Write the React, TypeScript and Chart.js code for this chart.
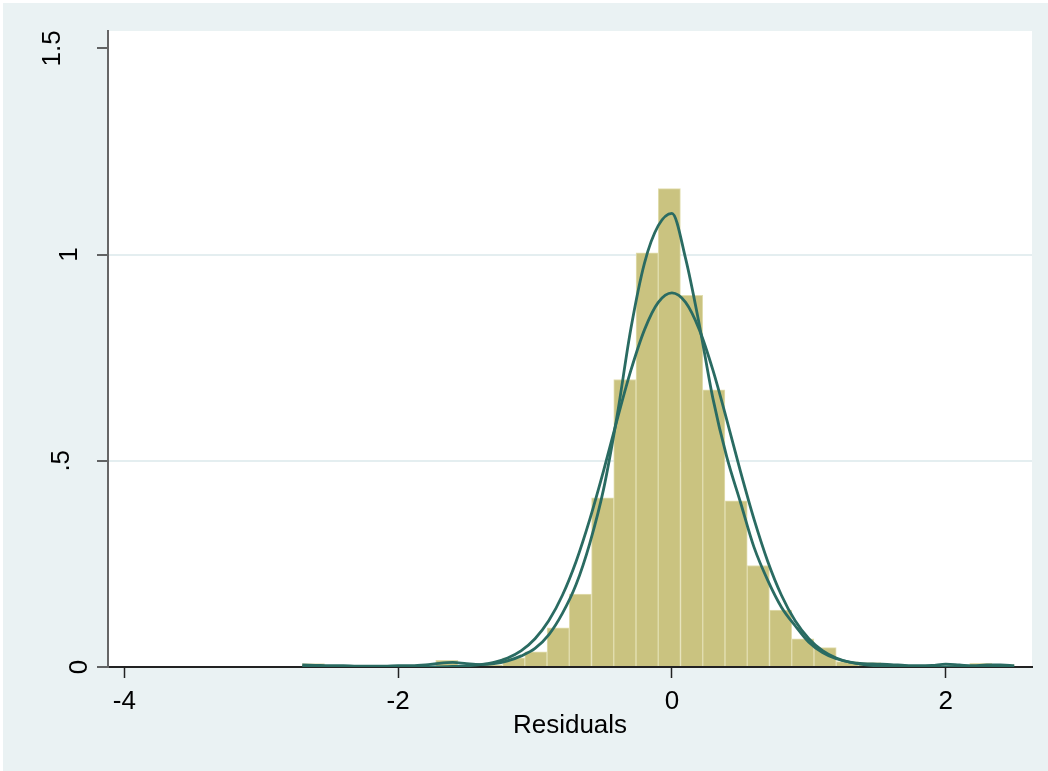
import React, { useEffect, useRef } from "react";
import { Chart, registerables } from "chart.js";

Chart.register(...registerables);

// Histogram bins (bin centers, density heights)
const binCenters = [
  -2.619, -2.456, -2.294, -2.131, -1.969, -1.806, -1.644, -1.481, -1.319, -1.156,
  -0.994, -0.831, -0.669, -0.506, -0.344, -0.181, -0.019, 0.144, 0.306, 0.469,
  0.631, 0.794, 0.956, 1.119, 1.281, 1.444, 1.606, 1.769, 1.931, 2.094, 2.256, 2.419,
];
const binDensity = [
  0.008, 0.002, 0, 0, 0.004, 0, 0.016, 0.003, 0.005, 0.022,
  0.037, 0.095, 0.177, 0.41, 0.697, 1.004, 1.16, 0.901, 0.672, 0.403,
  0.246, 0.138, 0.068, 0.047, 0.013, 0.011, 0.006, 0.004, 0, 0.003, 0.009, 0.006,
];

// Density curves sampled along the residual range
const curveX = [
  -2.7, -2.6, -2.5, -2.4, -2.3, -2.2, -2.1, -2.0, -1.9, -1.8,
  -1.7, -1.6, -1.5, -1.4, -1.3, -1.2, -1.1, -1.0, -0.9, -0.8,
  -0.7, -0.6, -0.5, -0.4, -0.3, -0.2, -0.1, 0.0, 0.1, 0.2,
  0.3, 0.4, 0.5, 0.6, 0.7, 0.8, 0.9, 1.0, 1.1, 1.2,
  1.3, 1.4, 1.5, 1.6, 1.7, 1.8, 1.9, 2.0, 2.1, 2.2,
  2.3, 2.4, 2.5,
];
const kernelDensity = [
  0.005, 0.004, 0.003, 0.003, 0.002, 0.002, 0.002, 0.003, 0.003, 0.005,
  0.009, 0.011, 0.008, 0.006, 0.008, 0.015, 0.027, 0.045, 0.078, 0.13,
  0.2, 0.3, 0.43, 0.61, 0.82, 0.98, 1.07, 1.1, 0.99, 0.83,
  0.65, 0.51, 0.4, 0.29, 0.21, 0.145, 0.1, 0.06, 0.035, 0.02,
  0.012, 0.008, 0.007, 0.006, 0.004, 0.003, 0.004, 0.007, 0.005, 0.003,
  0.005, 0.005, 0.003,
];
const normalDensity = [
  0, 0, 0, 0, 0, 0, 0, 0, 0.0001, 0.0002,
  0.0005, 0.0012, 0.0027, 0.0057, 0.0115, 0.022, 0.0398, 0.0686, 0.112, 0.174,
  0.256, 0.358, 0.475, 0.6, 0.719, 0.818, 0.884, 0.907, 0.884, 0.818,
  0.719, 0.6, 0.475, 0.358, 0.256, 0.174, 0.112, 0.0686, 0.0398, 0.022,
  0.0115, 0.0057, 0.0027, 0.0012, 0.0005, 0.0002, 0.0001, 0, 0, 0,
  0, 0, 0,
];

const xTickValues = [-4, -2, 0, 2];
const xTickLabels = ["-4", "-2", "0", "2"];
const yTickValues = [0, 0.5, 1, 1.5];
const yTickLabels = ["0", ".5", "1", "1.5"];
const yGridValues = [0.5, 1];
const xTitle = "Residuals";

const FONT = '"Liberation Sans", Arial, Helvetica, sans-serif';
const BAR_FILL = "#cac380";
const BAR_EDGE = "#e2deb0";
const LINE_COLOR = "#2a6b62";
const GRID_COLOR = "#e4eef0";

// right edge (baseline) x of each rotated y label
const yLabelBaseX = [87, 69, 77, 60];

const plotBgPlugin = {
  id: "plotBg",
  beforeDraw(chart: any) {
    const { ctx, chartArea: a } = chart;
    ctx.save();
    ctx.fillStyle = "#ffffff";
    ctx.fillRect(a.left, a.top, a.right - a.left, a.bottom - a.top);
    ctx.restore();
  },
};

const yLabelPlugin = {
  id: "yRotLabels",
  afterDraw(chart: any) {
    const ys = chart.scales.y;
    const ctx = chart.ctx;
    ctx.save();
    ctx.font = `26px ${FONT}`;
    ctx.fillStyle = "#000";
    ctx.textAlign = "center";
    ctx.textBaseline = "alphabetic";
    yTickValues.forEach((v, i) => {
      const py = ys.getPixelForValue(v);
      ctx.save();
      ctx.translate(yLabelBaseX[i], py);
      ctx.rotate(-Math.PI / 2);
      ctx.fillText(yTickLabels[i], 0, 0);
      ctx.restore();
    });
    ctx.restore();
  },
};

export default function App() {
  const canvasRef = useRef<HTMLCanvasElement | null>(null);

  useEffect(() => {
    if (!canvasRef.current) return;
    Chart.defaults.font.family = FONT;
    const chart = new Chart(canvasRef.current, {
      type: "bar",
      data: {
        datasets: [
          {
            type: "line",
            label: "Kernel density",
            data: curveX.map((x, i) => ({ x, y: kernelDensity[i] })),
            borderColor: LINE_COLOR,
            borderWidth: 2.8,
            pointRadius: 0,
            cubicInterpolationMode: "monotone",
            fill: false,
            order: 0,
          } as any,
          {
            type: "line",
            label: "Normal density",
            data: curveX.map((x, i) => ({ x, y: normalDensity[i] })),
            borderColor: LINE_COLOR,
            borderWidth: 2.8,
            pointRadius: 0,
            cubicInterpolationMode: "monotone",
            fill: false,
            order: 1,
          } as any,
          {
            type: "bar",
            label: "Density",
            data: binCenters.map((x, i) => ({ x, y: binDensity[i] })),
            backgroundColor: BAR_FILL,
            borderColor: BAR_EDGE,
            borderWidth: 1,
            borderSkipped: "bottom",
            barPercentage: 1,
            categoryPercentage: 1,
            order: 2,
          } as any,
        ],
      },
      options: {
        responsive: false,
        devicePixelRatio: 1,
        animation: false,
        layout: { padding: { left: 3, top: 31, right: 16, bottom: 0 } },
        plugins: {
          legend: { display: false },
          tooltip: { enabled: false },
        },
        scales: {
          x: {
            type: "linear",
            min: -4.119,
            max: 2.63,
            offset: false,
            afterBuildTicks: (s: any) => {
              s.ticks = xTickValues.map((v) => ({ value: v }));
            },
            afterFit: (s: any) => {
              s.height = 104;
            },
            grid: {
              offset: false,
              drawOnChartArea: false,
              drawTicks: true,
              tickLength: 11,
              tickWidth: 1.5,
              tickColor: "#222",
            },
            border: { display: true, color: "#222", width: 2 },
            ticks: {
              autoSkip: false,
              maxRotation: 0,
              minRotation: 0,
              padding: 8,
              color: "#000",
              font: { size: 26, family: FONT },
              callback: (v: any) => {
                const i = xTickValues.indexOf(Number(v));
                return i >= 0 ? xTickLabels[i] : "";
              },
            },
            title: {
              display: true,
              text: xTitle,
              color: "#000",
              font: { size: 26, family: FONT },
              padding: { top: 0, bottom: 30 },
            },
          },
          y: {
            type: "linear",
            min: 0,
            max: 1.542,
            afterBuildTicks: (s: any) => {
              s.ticks = yTickValues.map((v) => ({ value: v }));
            },
            afterFit: (s: any) => {
              s.width = 105;
            },
            grid: {
              drawOnChartArea: true,
              drawTicks: true,
              tickLength: 11,
              tickWidth: 1.5,
              tickColor: "#333",
              lineWidth: 2,
              color: (c: any) =>
                c.tick && yGridValues.indexOf(c.tick.value) >= 0
                  ? GRID_COLOR
                  : "rgba(0,0,0,0)",
            },
            border: { display: true, color: "#666", width: 2 },
            ticks: { display: false },
          },
        },
      },
      plugins: [plotBgPlugin, yLabelPlugin],
    });
    return () => chart.destroy();
  }, []);

  return (
    <div
      style={{
        position: "absolute",
        left: 0,
        top: 0,
        width: 1048,
        height: 771,
        background: "#ffffff",
        overflow: "hidden",
      }}
    >
      <div
        style={{
          position: "absolute",
          left: 3,
          top: 3,
          right: 0,
          bottom: 0,
          background: "#eaf2f3",
        }}
      />
      <canvas
        ref={canvasRef}
        width={1048}
        height={771}
        style={{ position: "absolute", left: 0, top: 0, display: "block" }}
      />
    </div>
  );
}
